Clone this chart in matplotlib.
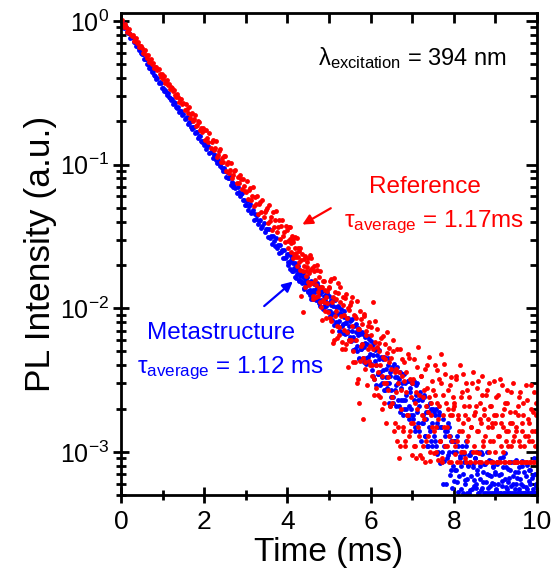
import numpy as np
import matplotlib
matplotlib.use("Agg")
from matplotlib import pyplot as plt

plt.rcParams['font.family'] = ['Liberation Sans', 'DejaVu Sans']
plt.rcParams['mathtext.fontset'] = 'custom'
plt.rcParams['mathtext.rm'] = 'Liberation Sans'
plt.rcParams['mathtext.it'] = 'Liberation Sans:italic'
plt.rcParams['mathtext.default'] = 'regular'

# PL decay, one point every 0.025 ms from 0 to 10 ms (rows = 0.5 ms)
reference_pl = [
    1.00, 1.01, 0.94, 0.91, 0.95, 0.90, 0.84, 0.87, 0.88, 0.81, 0.78, 0.80, 0.73, 0.75, 0.76, 0.70, 0.71, 0.66, 0.67, 0.67,
    0.645, 0.60, 0.62, 0.63, 0.58, 0.55, 0.575, 0.52, 0.535, 0.54, 0.50, 0.51, 0.47, 0.48, 0.48, 0.456, 0.46, 0.43, 0.41, 0.43,
    0.396, 0.411, 0.371, 0.381, 0.388, 0.358, 0.364, 0.335, 0.344, 0.343, 0.326, 0.329, 0.306, 0.296, 0.310, 0.294, 0.274, 0.285, 0.286, 0.263,
    0.270, 0.241, 0.266, 0.243, 0.228, 0.251, 0.211, 0.226, 0.230, 0.201, 0.208, 0.221, 0.187, 0.190, 0.200, 0.199, 0.173, 0.180, 0.169, 0.180,
    0.174, 0.149, 0.174, 0.154, 0.143, 0.165, 0.130, 0.144, 0.148, 0.126, 0.130, 0.145, 0.113, 0.117, 0.125, 0.129, 0.105, 0.112, 0.104, 0.114,
    0.114, 0.090, 0.101, 0.104, 0.088, 0.092, 0.103, 0.080, 0.084, 0.090, 0.092, 0.075, 0.082, 0.075, 0.084, 0.079, 0.068, 0.079, 0.071, 0.066,
    0.0646, 0.0766, 0.0574, 0.0665, 0.0689, 0.0564, 0.0600, 0.0694, 0.0518, 0.0598, 0.0530, 0.0606, 0.0456, 0.0529, 0.0549, 0.0468, 0.0566, 0.0435, 0.0468, 0.0481,
    0.0495, 0.0390, 0.0522, 0.0407, 0.0429, 0.0352, 0.0468, 0.0368, 0.0413, 0.0472, 0.0342, 0.0367, 0.0412, 0.0303, 0.0376, 0.0412, 0.0320, 0.0338, 0.0289, 0.0373,
    0.0352, 0.0264, 0.0368, 0.0284, 0.0299, 0.0222, 0.0309, 0.0262, 0.0229, 0.0309, 0.0228, 0.0252, 0.0186, 0.0121, 0.0240, 0.0094, 0.0198, 0.0232, 0.0168, 0.0195,
    0.0223, 0.0144, 0.0185, 0.0222, 0.0149, 0.0121, 0.0181, 0.0144, 0.0185, 0.0122, 0.0139, 0.0182, 0.0102, 0.0141, 0.0114, 0.0154, 0.0096, 0.0120, 0.0132, 0.0094,
    0.014, 0.0085, 0.016, 0.0070, 0.012, 0.0060, 0.013, 0.0095, 0.0075, 0.015, 0.0065, 0.011, 0.0058, 0.012, 0.0090, 0.0052, 0.0125, 0.0068, 0.010, 0.0060,
    0.0105, 0.0060, 0.012, 0.0050, 0.0090, 0.0042, 0.0085, 0.0030, 0.0072, 0.0022, 0.0095, 0.0055, 0.0078, 0.0045, 0.0088, 0.0038, 0.0070, 0.0052, 0.0080, 0.0040,
    0.0065, 0.0040, 0.011, 0.0032, 0.0058, 0.0028, 0.0072, 0.0036, 0.0050, 0.0024, 0.0062, 0.0034, 0.0046, 0.0022, 0.0056, 0.0030, 0.0068, 0.0027, 0.0042, 0.0021,
    0.0045, 0.0024, 0.0060, 0.0016, 0.0038, 0.0012, 0.0030, 0.0009, 0.0052, 0.0020, 0.0034, 0.0014, 0.0042, 0.0011, 0.0026, 0.0018, 0.0048, 0.0013, 0.0032, 0.0016,
    0.0030, 0.0016, 0.0044, 0.0011, 0.0026, 0.0020, 0.0054, 0.0013, 0.0034, 0.0009, 0.0024, 0.0017, 0.0038, 0.0012, 0.0028, 0.0019, 0.0046, 0.0010, 0.0022, 0.0015,
    0.0027, 0.0014, 0.0040, 0.0010, 0.0022, 0.0017, 0.0032, 0.0012, 0.0048, 0.0009, 0.0025, 0.0015, 0.0035, 0.0011, 0.0020, 0.0013, 0.0029, 0.00085, 0.0018, 0.0024,
    0.0022, 0.0011, 0.0034, 0.00085, 0.0018, 0.0014, 0.0040, 0.0010, 0.0026, 0.0016, 0.0021, 0.0009, 0.0030, 0.0012, 0.0017, 0.0024, 0.00085, 0.0015, 0.0036, 0.0011,
    0.0019, 0.0010, 0.0028, 0.0014, 0.00085, 0.0022, 0.0016, 0.0034, 0.0011, 0.0020, 0.0013, 0.0025, 0.00085, 0.0017, 0.0030, 0.0012, 0.0021, 0.0015, 0.00085, 0.0018,
    0.0016, 0.0024, 0.00085, 0.0013, 0.0032, 0.0011, 0.0018, 0.0015, 0.00085, 0.0022, 0.0012, 0.0027, 0.0014, 0.00085, 0.0019, 0.0011, 0.0016, 0.0030, 0.0013, 0.00085,
    0.0015, 0.00085, 0.0021, 0.0012, 0.0026, 0.00085, 0.0014, 0.0018, 0.0011, 0.00085, 0.0023, 0.0013, 0.0016, 0.00085, 0.0029, 0.0012, 0.0019, 0.00085, 0.0014, 0.0022,
    0.00085,
]

meta_pl = [
    1.00, 0.955, 0.968, 0.896, 0.909, 0.903, 0.837, 0.824, 0.826, 0.765, 0.769, 0.771, 0.714, 0.717, 0.671, 0.687, 0.656, 0.626, 0.642, 0.601,
    0.584, 0.585, 0.541, 0.543, 0.545, 0.504, 0.505, 0.472, 0.483, 0.461, 0.439, 0.449, 0.420, 0.413, 0.394, 0.399, 0.369, 0.374, 0.371, 0.343,
    0.343, 0.323, 0.333, 0.319, 0.306, 0.314, 0.295, 0.292, 0.280, 0.286, 0.266, 0.271, 0.270, 0.251, 0.248, 0.250, 0.233, 0.235, 0.237, 0.221,
    0.224, 0.209, 0.210, 0.214, 0.193, 0.199, 0.198, 0.184, 0.177, 0.184, 0.183, 0.167, 0.168, 0.169, 0.154, 0.159, 0.159, 0.147, 0.143, 0.146,
    0.137, 0.142, 0.129, 0.134, 0.134, 0.121, 0.122, 0.124, 0.111, 0.116, 0.116, 0.108, 0.103, 0.108, 0.103, 0.097, 0.103, 0.095, 0.090, 0.094,
    0.0906, 0.0826, 0.0882, 0.0804, 0.0800, 0.0827, 0.0722, 0.0755, 0.0698, 0.0738, 0.0683, 0.0630, 0.0693, 0.0646, 0.0605, 0.0628, 0.0636, 0.0563, 0.0570, 0.0523,
    0.0524, 0.0560, 0.0480, 0.0514, 0.0531, 0.0462, 0.0470, 0.0482, 0.0413, 0.0451, 0.0419, 0.0447, 0.0384, 0.0404, 0.0410, 0.0362, 0.0373, 0.0393, 0.0342, 0.0355,
    0.0357, 0.0313, 0.0355, 0.0309, 0.0318, 0.0278, 0.0316, 0.0292, 0.0271, 0.0307, 0.0262, 0.0275, 0.0241, 0.0274, 0.0248, 0.0255, 0.0223, 0.0254, 0.0223, 0.0227,
    0.0238, 0.0200, 0.0210, 0.0231, 0.0181, 0.0205, 0.0184, 0.0207, 0.0162, 0.0184, 0.0188, 0.0158, 0.0168, 0.0182, 0.0150, 0.0165, 0.0136, 0.0155, 0.0143, 0.0156,
    0.0129, 0.0152, 0.0133, 0.0116, 0.0152, 0.0134, 0.0116, 0.0137, 0.0120, 0.0143, 0.0108, 0.0126, 0.0115, 0.0132, 0.0099, 0.0122, 0.0105, 0.0123, 0.0109, 0.0095,
    0.0121, 0.0088, 0.0106, 0.0091, 0.0116, 0.0076, 0.0093, 0.0102, 0.0078, 0.0103, 0.0081, 0.0069, 0.0090, 0.0078, 0.0096, 0.0066, 0.0079, 0.0067, 0.0085, 0.0060,
    0.0063, 0.0083, 0.0070, 0.0051, 0.0075, 0.0060, 0.0078, 0.0050, 0.0065, 0.0044, 0.0068, 0.0052, 0.0056, 0.0066, 0.0042, 0.0057, 0.0045, 0.0064, 0.0042, 0.0048,
    0.0059, 0.0037, 0.0047, 0.0032, 0.0051, 0.0040, 0.0053, 0.0035, 0.0044, 0.0029, 0.0046, 0.0033, 0.0037, 0.0046, 0.0027, 0.0038, 0.0030, 0.0040, 0.0022, 0.0034,
    0.0027, 0.0039, 0.0022, 0.0033, 0.0029, 0.0039, 0.0023, 0.0032, 0.0019, 0.0028, 0.0035, 0.0023, 0.0020, 0.0030, 0.0025, 0.0018, 0.0031, 0.0021, 0.0026, 0.0018,
    0.0030, 0.0017, 0.0023, 0.0014, 0.0029, 0.0019, 0.0023, 0.0014, 0.0024, 0.0016, 0.0018, 0.0024, 0.0013, 0.0019, 0.0011, 0.0019, 0.0015, 0.0022, 0.0012, 0.0016,
    0.0020, 0.0013, 0.0018, 0.0011, 0.0016, 0.0010, 0.0019, 0.0012, 0.0015, 0.00085, 0.00060, 0.0011, 0.0014, 0.0009, 0.0016, 0.0010, 0.0013, 0.00075, 0.0012, 0.0008,
    0.0012, 0.00075, 0.0010, 0.00062, 0.0011, 0.00068, 0.00090, 0.00055, 0.0010, 0.00070, 0.00085, 0.00060, 0.0011, 0.00065, 0.00080, 0.00052, 0.00095, 0.00068, 0.00078, 0.00058,
    0.00090, 0.00060, 0.00075, 0.00052, 0.00085, 0.00065, 0.0010, 0.00056, 0.00072, 0.00052, 0.00082, 0.00062, 0.00070, 0.00052, 0.00088, 0.00058, 0.00068, 0.00052, 0.00078, 0.00060,
    0.00072, 0.00055, 0.00085, 0.00060, 0.00052, 0.00070, 0.00058, 0.00092, 0.00052, 0.00065, 0.00078, 0.00055, 0.00062, 0.00052, 0.00075, 0.00058, 0.00052, 0.00068, 0.00085, 0.00055,
    0.00060, 0.00052, 0.00072, 0.00055, 0.00065, 0.00052, 0.00080, 0.00058, 0.00052, 0.00068, 0.00055, 0.00052, 0.00075, 0.00060, 0.00052, 0.00066, 0.00055, 0.00052, 0.00070, 0.00058,
    0.00052,
]

# the noisy tail is sampled twice as densely: extra points at 4.0125 ms + k*0.025 ms
reference_pl_tail = [
    0.0294, 0.0367, 0.0302, 0.0246, 0.0319, 0.0291, 0.0237, 0.0314, 0.0241, 0.0198, 0.0264, 0.0210, 0.0261, 0.0216, 0.0182, 0.0220, 0.0141, 0.0181, 0.0210, 0.0153,
    0.0177, 0.0234, 0.0150, 0.0192, 0.0116, 0.0196, 0.0157, 0.0119, 0.0200, 0.0129, 0.0164, 0.0111, 0.0141, 0.0083, 0.0155, 0.0110, 0.0135, 0.0086, 0.0108, 0.0139,
    0.0154, 0.0081, 0.0111, 0.0057, 0.0162, 0.0089, 0.0116, 0.0062, 0.0127, 0.0074, 0.0140, 0.0088, 0.0052, 0.0106, 0.0071, 0.0117, 0.0056, 0.0086, 0.0039, 0.0098,
    0.0059, 0.0110, 0.0075, 0.0042, 0.0088, 0.0060, 0.0112, 0.0032, 0.0072, 0.0043, 0.0084, 0.0056, 0.0017, 0.0091, 0.0042, 0.0065, 0.0029, 0.0075, 0.0043, 0.0055,
    0.0074, 0.0034, 0.0052, 0.0025, 0.0081, 0.0040, 0.0054, 0.0025, 0.0057, 0.0040, 0.0020, 0.0064, 0.0030, 0.0044, 0.0016, 0.0049, 0.0033, 0.0053, 0.0021, 0.0038,
    0.0022, 0.0050, 0.0014, 0.0036, 0.0026, 0.0052, 0.0015, 0.0036, 0.0011, 0.0027, 0.0044, 0.0015, 0.0031, 0.0012, 0.0036, 0.0018, 0.0045, 0.0014, 0.0024, 0.00095,
    0.0032, 0.0011, 0.0022, 0.0009, 0.0039, 0.0015, 0.0025, 0.00095, 0.0034, 0.0018, 0.0011, 0.0027, 0.00085, 0.0021, 0.0040, 0.0013, 0.0024, 0.00087, 0.0018, 0.0031,
    0.00099, 0.0025, 0.0015, 0.0037, 0.00088, 0.0021, 0.0012, 0.0030, 0.00085, 0.0018, 0.0041, 0.0011, 0.0022, 0.0015, 0.0027, 0.00085, 0.0018, 0.0033, 0.0012, 0.0020,
    0.0021, 0.00096, 0.0032, 0.0012, 0.0017, 0.00085, 0.0024, 0.0014, 0.0035, 0.0010, 0.0018, 0.00085, 0.0027, 0.0013, 0.0021, 0.00085, 0.0015, 0.0030, 0.0010, 0.0018,
    0.00085, 0.0021, 0.0014, 0.0031, 0.00098, 0.0017, 0.00085, 0.0025, 0.0012, 0.0018, 0.00085, 0.0027, 0.0015, 0.0010, 0.0021, 0.00085, 0.0016, 0.0012, 0.0031, 0.0010,
    0.0018, 0.00085, 0.0025, 0.0013, 0.00085, 0.0016, 0.0029, 0.0010, 0.0020, 0.00085, 0.0014, 0.0022, 0.0011, 0.00085, 0.0016, 0.0026, 0.0012, 0.00085, 0.0019, 0.0014,
    0.00085, 0.0018, 0.0024, 0.0011, 0.00085, 0.0016, 0.0022, 0.00085, 0.0013, 0.0029, 0.00085, 0.0017, 0.0012, 0.00085, 0.0020, 0.0014, 0.00085, 0.0026, 0.0011, 0.0018,
]

meta_pl_tail = [
    0.0209, 0.0237, 0.0189, 0.0216, 0.0227, 0.0181, 0.0192, 0.0164, 0.0199, 0.0173, 0.0197, 0.0155, 0.0175, 0.0154, 0.0176, 0.0138, 0.0162, 0.0147, 0.0165, 0.0132,
    0.0151, 0.0124, 0.0156, 0.0128, 0.0116, 0.0147, 0.0129, 0.0115, 0.0149, 0.0115, 0.0129, 0.0104, 0.0131, 0.0113, 0.0132, 0.0102, 0.0115, 0.0103, 0.0128, 0.0109,
    0.0095, 0.0115, 0.0083, 0.0104, 0.0092, 0.0114, 0.0080, 0.0091, 0.0102, 0.0070, 0.0092, 0.0099, 0.0075, 0.0067, 0.0087, 0.0079, 0.0067, 0.0084, 0.0069, 0.0075,
    0.0081, 0.0059, 0.0084, 0.0063, 0.0052, 0.0068, 0.0055, 0.0073, 0.0045, 0.0066, 0.0052, 0.0068, 0.0045, 0.0054, 0.0063, 0.0041, 0.0056, 0.0046, 0.0061, 0.0041,
    0.0041, 0.0055, 0.0034, 0.0057, 0.0043, 0.0029, 0.0047, 0.0035, 0.0051, 0.0036, 0.0030, 0.0044, 0.0027, 0.0045, 0.0033, 0.0028, 0.0045, 0.0030, 0.0036, 0.0024,
    0.0038, 0.0024, 0.0041, 0.0027, 0.0021, 0.0033, 0.0030, 0.0021, 0.0036, 0.0023, 0.0030, 0.0018, 0.0035, 0.0023, 0.0020, 0.0031, 0.0017, 0.0028, 0.0020, 0.0030,
    0.0018, 0.0031, 0.0015, 0.0025, 0.0030, 0.0016, 0.0021, 0.0026, 0.0012, 0.0023, 0.0016, 0.0025, 0.0013, 0.0017, 0.0021, 0.0011, 0.0019, 0.0014, 0.0020, 0.0011,
    0.0019, 0.0012, 0.0020, 0.00097, 0.0015, 0.0018, 0.00084, 0.0015, 0.0010, 0.0017, 0.00087, 0.0013, 0.00060, 0.0014, 0.00095, 0.0015, 0.00069, 0.0012, 0.00056, 0.0010,
    0.00063, 0.0012, 0.00075, 0.0013, 0.00053, 0.00094, 0.00080, 0.0011, 0.00052, 0.00097, 0.00064, 0.0012, 0.00052, 0.00081, 0.00095, 0.00054, 0.0010, 0.00055, 0.00083, 0.00064,
    0.00091, 0.00056, 0.00070, 0.0010, 0.00052, 0.00080, 0.00054, 0.00096, 0.00062, 0.00082, 0.00052, 0.0010, 0.00056, 0.00069, 0.00052, 0.00087, 0.00061, 0.00080, 0.00052, 0.00070,
    0.00054, 0.00082, 0.00052, 0.00069, 0.00091, 0.00052, 0.00063, 0.00079, 0.00052, 0.00098, 0.00057, 0.00052, 0.00076, 0.00066, 0.00052, 0.00085, 0.00060, 0.00052, 0.00072, 0.00088,
    0.00066, 0.00052, 0.00078, 0.00052, 0.00060, 0.00087, 0.00052, 0.00072, 0.00052, 0.00057, 0.00081, 0.00052, 0.00063, 0.00075, 0.00052, 0.00052, 0.00069, 0.00090, 0.00052, 0.00060,
]

time_main = np.arange(len(reference_pl)) * 0.025
time_tail = 4.0125 + np.arange(len(reference_pl_tail)) * 0.025

red = '#ff0000'
blue = '#0000ff'

fig = plt.figure(figsize=(5.53, 5.86), dpi=100)
ax = fig.add_axes([0.219, 0.155, 0.752, 0.823])

# blue first, the red cloud sits on top of it
ax.plot(time_main, meta_pl, 'o', color=blue, ms=3.5, mew=0, zorder=3)
ax.plot(time_tail, meta_pl_tail, 'o', color=blue, ms=3.5, mew=0, zorder=3)
ax.plot(time_main, reference_pl, 'o', color=red, ms=3.5, mew=0, zorder=4)
ax.plot(time_tail, reference_pl_tail, 'o', color=red, ms=3.5, mew=0, zorder=4)

ax.set_yscale('log')
ax.set_xlim(0, 10)
ax.set_ylim(5.0e-4, 1.137)
ax.set_xticks([0, 2, 4, 6, 8, 10])
ax.set_xticks([1, 3, 5, 7, 9], minor=True)

for s in ax.spines.values():
    s.set_linewidth(2.0)
    s.set_zorder(6)

ax.tick_params(which='both', direction='inout', width=2.0, top=False, right=False)
ax.tick_params(which='major', length=11)
ax.tick_params(which='minor', length=7)
ax.tick_params(axis='x', labelsize=19, pad=5)
ax.tick_params(axis='y', labelsize=18, pad=3)

# top and right: inward ticks only
top = ax.secondary_xaxis('top')
top.set_xticks([0, 2, 4, 6, 8, 10])
top.set_xticks([1, 3, 5, 7, 9], minor=True)
top.tick_params(which='both', direction='in', width=2.0, length=7, labeltop=False)
right = ax.secondary_yaxis('right')
right.tick_params(which='both', direction='in', width=2.0, labelright=False)
right.tick_params(which='major', length=8)
right.tick_params(which='minor', length=5)

ax.set_xlabel('Time (ms)', fontsize=24, labelpad=2)
ax.set_ylabel('PL Intensity (a.u.)', fontsize=25.5, labelpad=2)

ax.text(4.74, 0.494, r'$\lambda_{\mathrm{excitation}}$ = 394 nm', fontsize=17, color='black', ha='left', va='baseline')
ax.text(7.30, 0.0635, 'Reference', fontsize=17.5, color=red, ha='center', va='baseline')
ax.text(5.36, 0.0368, r'$\tau_{\mathrm{average}}$ = 1.17ms', fontsize=17.5, color=red, ha='left', va='baseline')
ax.text(0.625, 0.00612, 'Metastructure', fontsize=17.5, color=blue, ha='left', va='baseline')
ax.text(0.385, 0.00355, r'$\tau_{\mathrm{average}}$ = 1.12 ms', fontsize=17.5, color=blue, ha='left', va='baseline')

ax.annotate('', xy=(4.30, 0.0374), xytext=(5.10, 0.0508),
            arrowprops=dict(arrowstyle='-|>', color=red, lw=1.6, mutation_scale=15))
ax.annotate('', xy=(4.18, 0.0158), xytext=(3.39, 0.01006),
            arrowprops=dict(arrowstyle='-|>', color=blue, lw=1.6, mutation_scale=15))

plt.savefig('out.png', dpi=100)
